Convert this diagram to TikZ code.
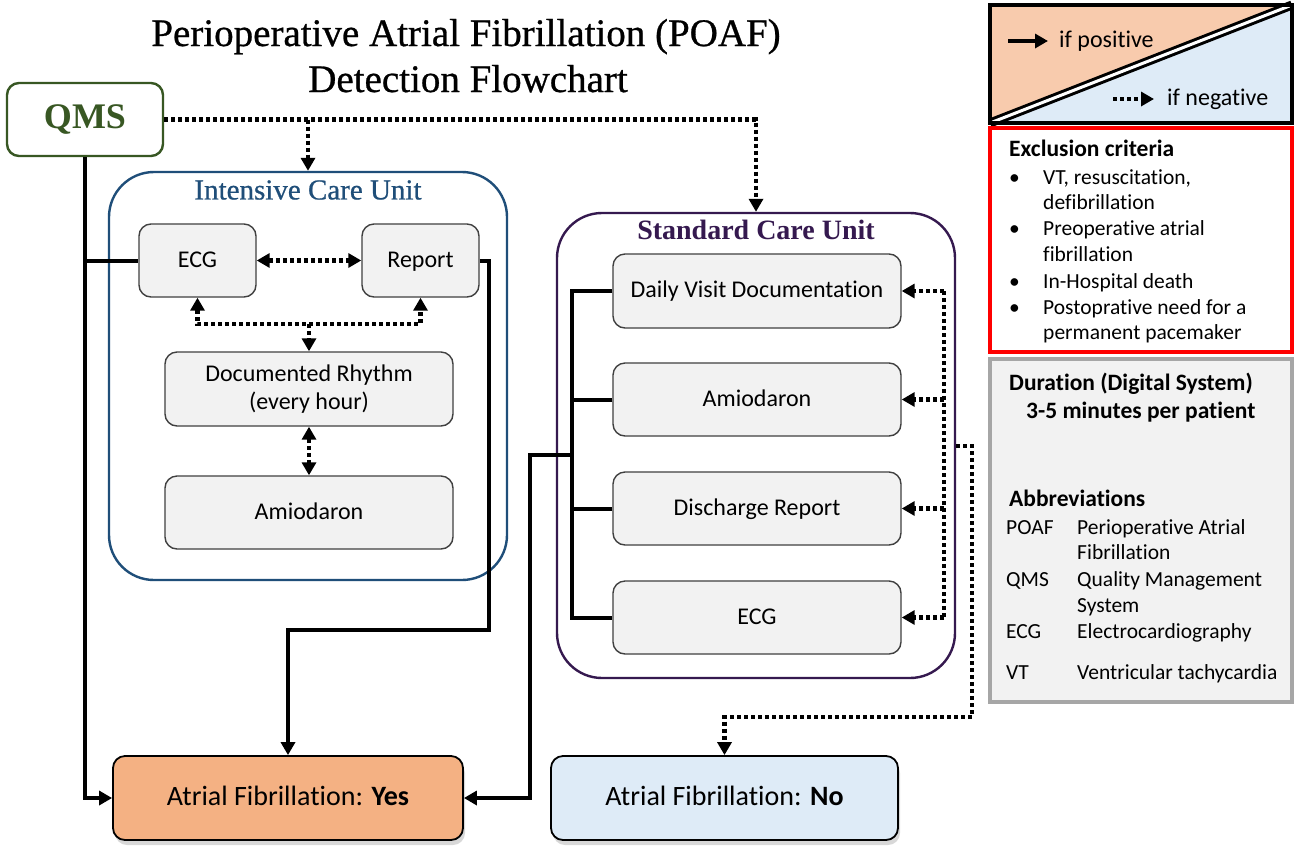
\documentclass[tikz,border=0pt]{standalone}
\usepackage{fontspec}
\setmainfont{Carlito}[Ligatures={NoCommon,NoContextual}]
\newfontfamily\ttlfont{Liberation Serif}[FakeBold=0.7]
\newfontfamily\ttlheavy{Liberation Serif}[BoldFont={Liberation Serif Bold}]
\usetikzlibrary{arrows.meta,shadows}
\definecolor{qmsgreen}{HTML}{385723}
\definecolor{icublue}{HTML}{1F4E79}
\definecolor{scupurple}{HTML}{35194F}
\definecolor{boxfill}{HTML}{F2F2F2}
\definecolor{yesfill}{HTML}{F4B183}
\definecolor{nofill}{HTML}{DEEBF7}
\definecolor{legor}{HTML}{F8CBAD}
\definecolor{legbl}{HTML}{DEEBF7}
\definecolor{graybd}{HTML}{A6A6A6}
\definecolor{exred}{HTML}{FF0000}
\begin{document}
\begin{tikzpicture}[x=1pt,y=-1pt,
 box/.style={draw=black!75, line width=1.4pt, fill=boxfill, rounded corners=12pt, inner sep=0pt, align=center, font=\fontsize{24}{28.5}\selectfont},
 box1/.style={box, text height=17.5pt, text depth=4pt},
 unitbox/.style={line width=2.4pt, rounded corners=45pt, inner sep=0pt},
 resbox/.style={draw=black, line width=1.8pt, rounded corners=12pt, inner sep=0pt, font=\fontsize{28}{32}\selectfont, text height=20pt, text depth=4.5pt, drop shadow={shadow xshift=2pt, shadow yshift=-5pt, opacity=0.3}},
 solidln/.style={line width=4pt},
 dotln/.style={line width=4.2pt, dash pattern=on 4pt off 3pt},
 tipend/.style={-{Triangle[length=13pt,width=14pt]}},
 tipboth/.style={{Triangle[length=13pt,width=14pt]}-{Triangle[length=13pt,width=14pt]}},
 txt/.style={inner sep=0pt, anchor=west, text height=16pt, text depth=4pt, font=\fontsize{21.5}{25}\selectfont},
 hd/.style={inner sep=0pt, anchor=west, text height=17pt, text depth=4pt, font=\fontsize{23.5}{27}\selectfont\bfseries},
]
\useasboundingbox (0,0) rectangle (1298,855);
\fill[white] (0,0) rectangle (1298,855);

% Title
\node[inner sep=0pt, anchor=base, font=\fontsize{39}{44}\ttlfont] (t1) at (466,46) {Perioperative Atrial Fibrillation (POAF)};
\node[inner sep=0pt, anchor=base, font=\fontsize{39}{44}\ttlfont] (t2) at (468,92) {Detection Flowchart};

% QMS
\node[draw=qmsgreen, line width=2.4pt, rounded corners=12pt, minimum width=156pt, minimum height=73pt, inner sep=0pt, text=qmsgreen, font=\fontsize{36}{40}\ttlheavy\bfseries] (qms) at (85,119.5) {QMS};

% Containers
\node[unitbox, draw=icublue, minimum width=398pt, minimum height=408pt] (icu) at (308,376) {};
\node[inner sep=0pt, text=icublue, font=\fontsize{29}{32}\ttlfont] (icut) at (308,190) {Intensive Care Unit};
\node[unitbox, draw=scupurple, minimum width=398pt, minimum height=465pt] (scu) at (756,445.5) {};
\node[inner sep=0pt, text=scupurple, font=\fontsize{28}{32}\ttlheavy\bfseries] (scut) at (756,230) {Standard Care Unit};

% ICU boxes
\node[box1, minimum width=117pt, minimum height=73pt] (ecg1) at (197.5,260.5) {ECG};
\node[box1, minimum width=117pt, minimum height=73pt] (rep) at (420.5,260.5) {Report};
\node[box, minimum width=288pt, minimum height=74pt] (doc) at (309,389) {Documented Rhythm\\(every hour)};
\node[box1, minimum width=288pt, minimum height=73pt] (amio1) at (309,512.5) {Amiodaron};

% SCU boxes
\node[box1, minimum width=288pt, minimum height=74pt] (dvd) at (757,291) {Daily Visit Documentation};
\node[box1, minimum width=288pt, minimum height=73pt] (amio2) at (757,399.5) {Amiodaron};
\node[box1, minimum width=288pt, minimum height=73pt] (dis) at (757,508.5) {Discharge Report};
\node[box1, minimum width=288pt, minimum height=73pt] (ecg2) at (757,617.5) {ECG};

% Result boxes
\node[resbox, fill=yesfill, minimum width=350pt, minimum height=84pt] (yes) at (288,798) {Atrial Fibrillation: \textbf{Yes}};
\node[resbox, fill=nofill, minimum width=347pt, minimum height=84pt] (no) at (724.5,798) {Atrial Fibrillation: \textbf{No}};

% coordinates
\coordinate (r1) at (489,630);
\coordinate (bx) at (572,455);
\coordinate (b2) at (530,455);
\coordinate (m1) at (309,324);
\coordinate (rx) at (944,455);
\coordinate (n1) at (972,446);
\coordinate (n2) at (972,717);

% solid connectors
\draw[solidln, tipend] (qms.south) -- (qms.south |- yes.west) -- (yes.west);
\draw[solidln] (qms.south |- ecg1.west) -- (ecg1.west);
\draw[solidln, tipend] (rep.east) -| (r1) -| (yes.north);
\draw[solidln] (dvd.west) -- (dvd.west -| bx) -- (ecg2.west -| bx) -- (ecg2.west);
\draw[solidln] (amio2.west) -- (amio2.west -| bx);
\draw[solidln] (dis.west) -- (dis.west -| bx);
\draw[solidln, tipend] (bx) -- (b2) |- (yes.east);

% dotted connectors
\draw[dotln, tipend] (qms.east) -| (scu.north);
\draw[dotln, tipend] (qms.east -| icu.north) -- (icu.north);
\draw[dotln, tipboth] (ecg1.east) -- (rep.west);
\draw[dotln, tipboth] (ecg1.south) |- (m1) -| (rep.south);
\draw[dotln, tipend] (m1) -- (doc.north);
\draw[dotln, tipboth] (doc.south) -- (amio1.north);
\draw[dotln] (dvd.east -| rx) -- (ecg2.east -| rx);
\draw[dotln, tipend] (dvd.east -| rx) -- (dvd.east);
\draw[dotln, tipend] (amio2.east -| rx) -- (amio2.east);
\draw[dotln, tipend] (dis.east -| rx) -- (dis.east);
\draw[dotln, tipend] (ecg2.east -| rx) -- (ecg2.east);
\draw[dotln, tipend] (scu.east |- n1) -- (n1) -- (n2) -| (no.north);

% Legend
\fill[legbl] (990,5) rectangle (1292,123);
\fill[legor] (990,5) -- (1292,5) -- (990,123) -- cycle;
\draw[line width=9pt] (990,123) -- (1292,5);
\draw[white, line width=3pt] (990,123) -- (1292,5);
\draw[line width=4.5pt] (990,5) rectangle (1292,123);
\node[txt, font=\fontsize{24}{28}\selectfont, text height=17.5pt] (pos) at (1059,41) {if positive};
\node[txt, font=\fontsize{24}{28}\selectfont, text height=17.5pt] (neg) at (1167,99) {if negative};
\coordinate (pa) at (1008,41);
\coordinate (na) at (1113,99);
\draw[solidln, tipend, shorten >=11pt] (pa) -- (pos.west);
\draw[dotln, tipend, shorten >=13pt] (na) -- (neg.west);

% Exclusion criteria
\draw[exred, line width=3.5pt] (990,128) rectangle (1292,352);
\node[hd] (exh) at (1009,150) {Exclusion criteria};
\foreach \yy/\nm in {178/b1,229/b2x,282/b3,308/b4}{
  \node[txt] (\nm) at (1009,\yy) {•};
}
\node[txt] (ex1) at (1043,178) {VT, resuscitation,};
\node[txt] (ex2) at (1043,203) {defibrillation};
\node[txt] (ex3) at (1043,229) {Preoperative atrial};
\node[txt] (ex4) at (1043,255) {fibrillation};
\node[txt] (ex5) at (1043,282) {In-Hospital death};
\node[txt] (ex6) at (1043,308) {Postoprative need for a};
\node[txt] (ex7) at (1043,333) {permanent pacemaker};

% Duration / abbreviations
\draw[graybd, fill=boxfill, line width=4.5pt] (990,359) rectangle (1292,702);
\node[hd] (du1) at (1009,384) {Duration (Digital System)};
\node[hd] (du2) at (1026,412) {3-5 minutes per patient};
\node[hd] (abh) at (1009,500) {Abbreviations};
\node[txt] (a1) at (1006,528) {POAF};
\node[txt] (a1d) at (1077,528) {Perioperative Atrial};
\node[txt] (a1e) at (1077,553) {Fibrillation};
\node[txt] (a2) at (1006,580) {QMS};
\node[txt] (a2d) at (1077,580) {Quality Management};
\node[txt] (a2e) at (1077,606) {System};
\node[txt] (a3) at (1006,632) {ECG};
\node[txt] (a3d) at (1077,632) {Electrocardiography};
\node[txt] (a4) at (1006,673) {VT};
\node[txt] (a4d) at (1077,673) {Ventricular tachycardia};
\end{tikzpicture}
\end{document}
